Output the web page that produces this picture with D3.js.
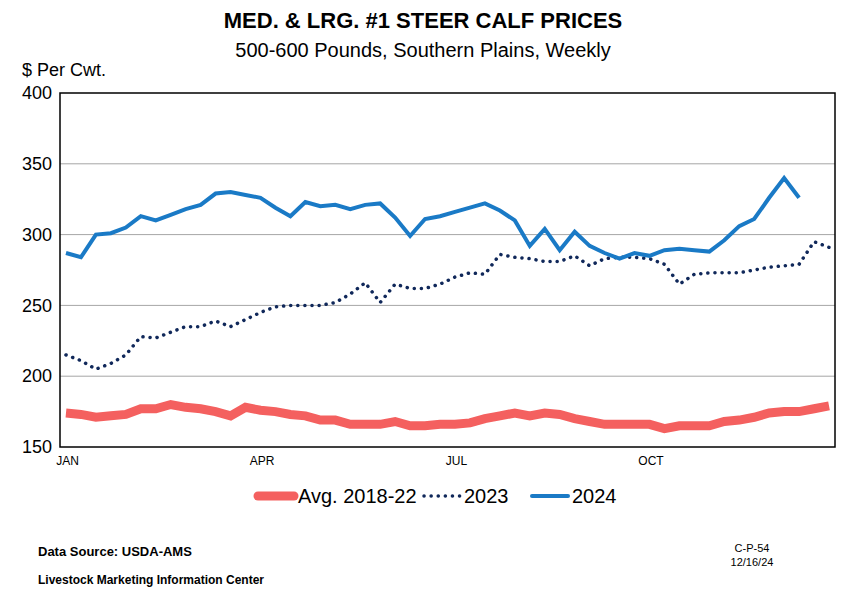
<!DOCTYPE html>
<html><head><meta charset="utf-8">
<script src="https://cdn.jsdelivr.net/npm/d3@7"></script>
<style>body{margin:0;background:#fff}text{font-family:"Liberation Sans",Arial,sans-serif}</style>
</head><body><svg id="c" width="846" height="594"></svg>
<script>
const avg = [174,173,171,172,173,177,177,180,178,177,175,172,178,176,175,173,172,169,169,166,166,166,168,165,165,166,166,167,170,172,174,172,174,173,170,168,166,166,166,166,163,165,165,165,168,169,171,174,175,175,177,179];
const y2023 = [215,211,205,209,215,228,227,231,235,235,239,235,240,245,249,250,250,250,252,258,266,252,265,262,262,265,270,273,272,286,284,283,281,281,285,278,283,284,284,283,279,265,272,273,273,273,275,277,278,279,295,291];
const y2024 = [287,284,300,301,305,313,310,314,318,321,329,330,328,326,319,313,323,320,321,318,321,322,312,299,311,313,316,319,322,317,310,292,304,289,302,292,287,283,287,285,289,290,289,288,296,306,311,326,340,326];

const margin = {top: 93, right: 11, bottom: 147, left: 60};
const width = 846, height = 594;
const svg = d3.select("#c");
const g = svg.append("g").attr("transform", `translate(${margin.left},${margin.top})`);
const w = width - margin.left - margin.right, h = height - margin.top - margin.bottom;

const x = d3.scaleLinear().domain([0, 51.8]).range([0, w]);
const y = d3.scaleLinear().domain([150, 400]).range([h, 0]);

g.append("g").selectAll("line").data([200,250,300,350]).join("line")
  .attr("x1", 0).attr("x2", w).attr("y1", d => y(d)).attr("y2", d => y(d))
  .attr("stroke", "#a6a6a6").attr("stroke-width", 1);

const yAxis = g.append("g").call(d3.axisLeft(y).tickValues([150,200,250,300,350,400]).tickSize(0).tickPadding(8));
yAxis.select(".domain").remove();
yAxis.selectAll("text").attr("font-size", 18).attr("fill", "#000");

const months = [["JAN",0.5],["APR",13.5],["JUL",26.5],["OCT",39.5]];
g.append("g").selectAll("text").data(months).join("text")
  .attr("x", d => x(d[1])).attr("y", h + 18).attr("text-anchor", "middle")
  .attr("font-size", 12).text(d => d[0]);

g.append("rect").attr("width", w).attr("height", h).attr("fill", "none").attr("stroke", "#000").attr("stroke-width", 1.5);

const line = d3.line().x((d, i) => x(i + 0.4)).y(d => y(d));
g.append("path").datum(avg).attr("d", line).attr("fill", "none").attr("stroke", "#f4605f").attr("stroke-width", 9);
g.append("path").datum(y2023).attr("d", line).attr("fill", "none").attr("stroke", "#10285a").attr("stroke-width", 3.5).attr("stroke-dasharray", "0.1 7").attr("stroke-linecap", "round");
g.append("path").datum(y2024).attr("d", line).attr("fill", "none").attr("stroke", "#1a7ac6").attr("stroke-width", 4);

svg.append("text").attr("x", 423).attr("y", 28).attr("text-anchor", "middle").attr("font-weight", "bold").attr("font-size", 22).text("MED. & LRG. #1 STEER CALF PRICES");
svg.append("text").attr("x", 423).attr("y", 57).attr("text-anchor", "middle").attr("font-size", 20).text("500-600 Pounds, Southern Plains, Weekly");
svg.append("text").attr("x", 22).attr("y", 76).attr("font-size", 18).text("$ Per Cwt.");

const legend = [
  {label: "Avg. 2018-22", color: "#f4605f", sw: 9, dash: null, x: 258},
  {label: "2023", color: "#10285a", sw: 3.5, dash: "0.1 7", x: 424},
  {label: "2024", color: "#1a7ac6", sw: 4, dash: null, x: 532}
];
const lg = svg.append("g").selectAll("g").data(legend).join("g").attr("transform", d => `translate(${d.x},496)`);
lg.append("line").attr("x1", 0).attr("x2", 36).attr("stroke", d => d.color).attr("stroke-width", d => d.sw)
  .attr("stroke-dasharray", d => d.dash).attr("stroke-linecap", "round");
lg.append("text").attr("x", 40).attr("y", 7).attr("font-size", 20).text(d => d.label);

svg.append("text").attr("x", 38).attr("y", 556).attr("font-weight", "bold").attr("font-size", 13).text("Data Source:  USDA-AMS");
svg.append("text").attr("x", 38).attr("y", 584).attr("font-weight", "bold").attr("font-size", 12).text("Livestock Marketing Information Center");
svg.append("text").attr("x", 752).attr("y", 552).attr("text-anchor", "middle").attr("font-size", 11).text("C-P-54");
svg.append("text").attr("x", 752).attr("y", 566).attr("text-anchor", "middle").attr("font-size", 11).text("12/16/24");
</script></body></html>
